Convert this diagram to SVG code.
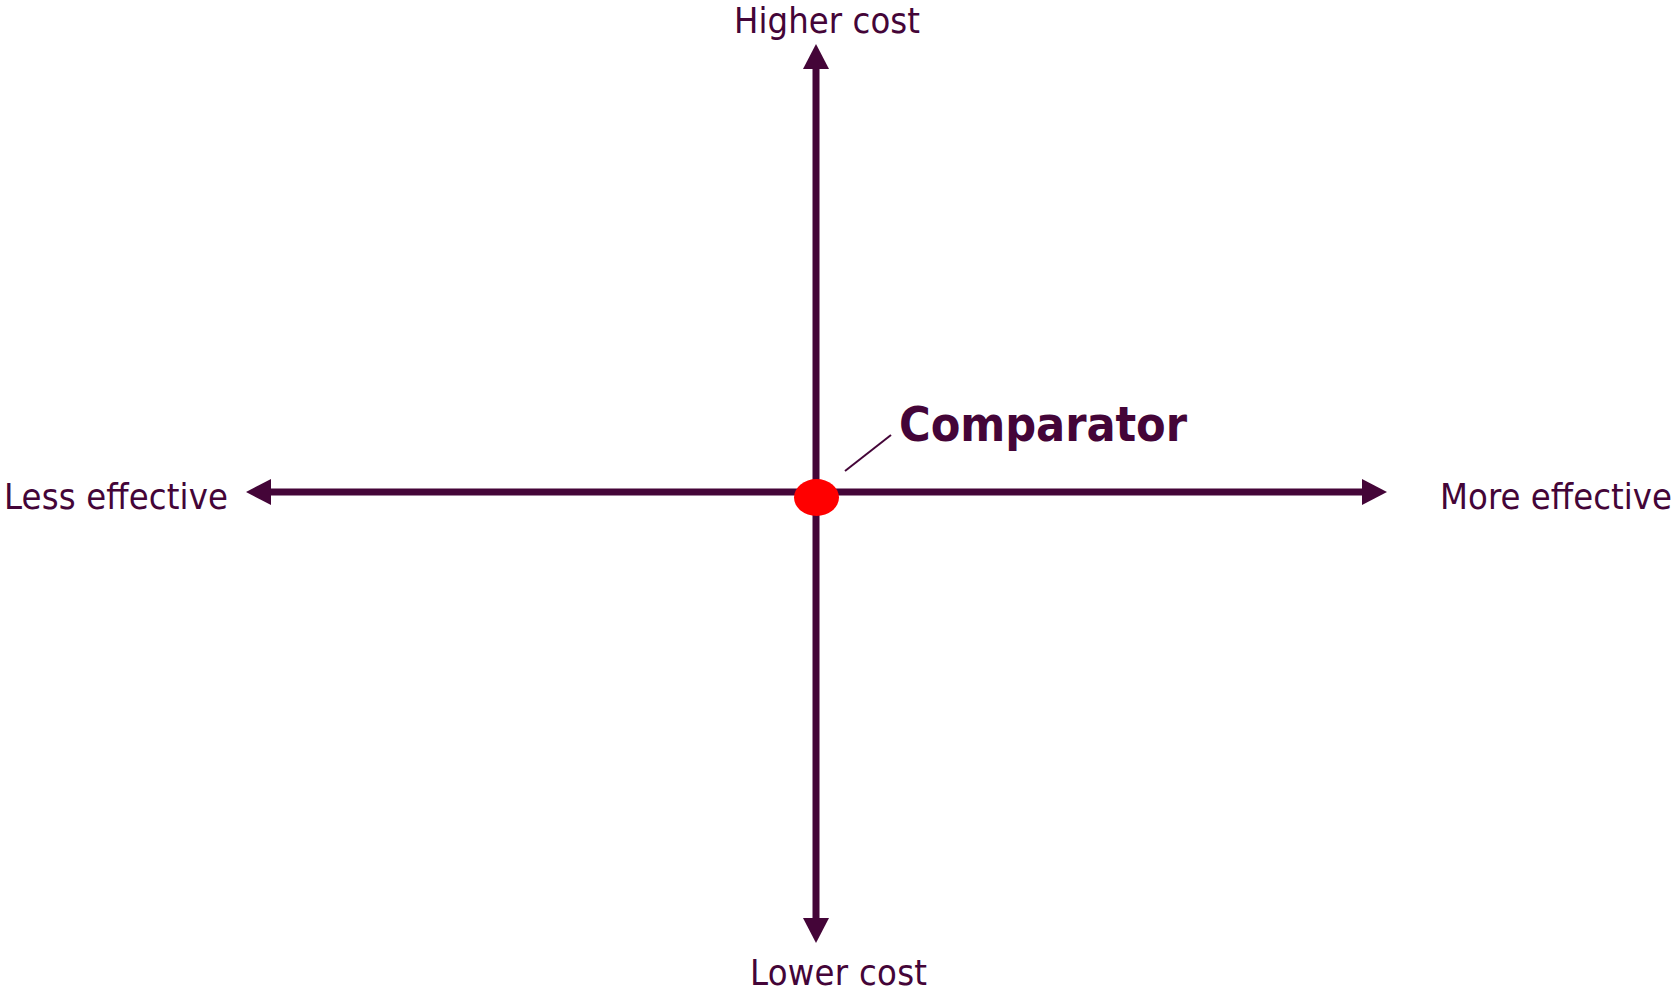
<svg xmlns="http://www.w3.org/2000/svg" width="1673" height="991" viewBox="0 0 1673 991">
<style>
.lbl{font-family:"DejaVu Sans Condensed","DejaVu Sans",sans-serif;font-size:36px;fill:#440538}
.bold{font-family:"DejaVu Sans Condensed","DejaVu Sans",sans-serif;font-size:48px;font-weight:bold;fill:#440538}
.axis{stroke:#440538;stroke-width:7;fill:none}
</style>
<defs>
<marker id="ah" markerUnits="userSpaceOnUse" markerWidth="26" markerHeight="26" viewBox="0 0 26 26" refX="1" refY="13" orient="auto" overflow="visible">
<path d="M0,0 L25,13 L0,26 Z" fill="#440538"/>
</marker>
</defs>
<rect width="1673" height="991" fill="#fff"/>
<g id="connectors">
<line class="axis" x1="816" y1="496" x2="816" y2="68" marker-end="url(#ah)"/>
<line class="axis" x1="816" y1="496" x2="816" y2="919" marker-end="url(#ah)"/>
<line class="axis" x1="816" y1="492" x2="270" y2="492" marker-end="url(#ah)"/>
<line class="axis" x1="816" y1="492" x2="1363" y2="492" marker-end="url(#ah)"/>
<line x1="845" y1="471" x2="891" y2="435" stroke="#440538" stroke-width="2"/>
</g>
<g id="comparator">
<ellipse cx="816.5" cy="497.5" rx="22.5" ry="18.5" fill="#ff0000"/>
<text class="bold" x="899" y="441" textLength="288">Comparator</text>
</g>
<g id="higher-cost"><text class="lbl" x="734" y="33" textLength="186">Higher cost</text></g>
<g id="lower-cost"><text class="lbl" x="750" y="985" textLength="177">Lower cost</text></g>
<g id="less-effective"><text class="lbl" x="4" y="509" textLength="224">Less effective</text></g>
<g id="more-effective"><text class="lbl" x="1440" y="509" textLength="232">More effective</text></g>
</svg>
